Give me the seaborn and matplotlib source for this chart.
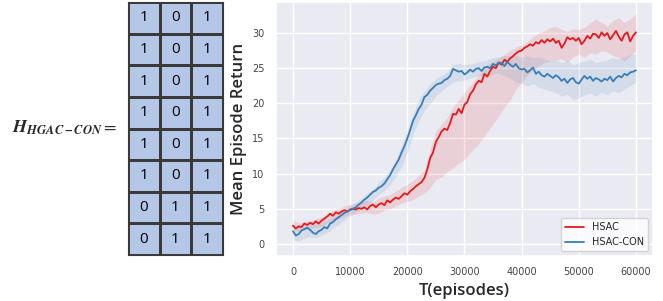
import numpy as np
import matplotlib
matplotlib.use("Agg")
import matplotlib.pyplot as plt
from matplotlib.colors import ListedColormap
import pandas as pd
import seaborn as sns

# Matrix on the left
H_matrix = [[1, 0, 1],
            [1, 0, 1],
            [1, 0, 1],
            [1, 0, 1],
            [1, 0, 1],
            [1, 0, 1],
            [0, 1, 1],
            [0, 1, 1]]

# Mean curves, every 500 episodes
t_mean = list(range(0, 60001, 500))
hsac_mean = [2.6, 2.2, 2.5, 2.4, 2.9, 2.7, 3.0, 2.8, 3.2, 2.9, 3.3,
             3.6, 3.9, 4.3, 4.0, 4.5, 4.3, 4.6, 4.8, 4.6, 4.9,
             5.0, 4.9, 5.1, 5.0, 5.2, 4.9, 5.4, 5.6, 5.2, 5.6,
             5.8, 5.5, 6.2, 5.9, 6.3, 6.6, 6.4, 6.8, 7.2, 7.0,
             7.5, 7.8, 8.2, 8.5, 8.8, 9.4, 10.6, 12.2, 13.0, 14.5,
             15.2, 16.0, 16.4, 16.2, 17.2, 18.5, 18.4, 19.2, 18.6, 19.8,
             20.2, 21.3, 21.8, 22.7, 23.2, 23.0, 24.2, 23.8, 24.6, 25.2,
             25.0, 25.8, 25.5, 26.2, 25.9, 26.4, 26.7, 27.1, 27.4, 27.5,
             27.9, 28.1, 28.4, 28.2, 28.7, 28.5, 29.0, 28.6, 29.1, 28.8,
             29.2, 28.6, 28.9, 27.9, 28.5, 29.4, 29.1, 29.3, 28.9, 29.3,
             28.4, 28.9, 29.6, 29.2, 29.9, 29.8, 29.3, 30.1, 29.6, 30.0,
             29.1, 29.7, 30.3, 29.5, 28.9, 29.8, 30.1, 28.8, 29.6, 30.1]
con_mean = [1.8, 1.2, 1.4, 1.9, 2.1, 2.3, 2.0, 1.6, 1.4, 1.8, 2.0,
            2.4, 2.2, 2.9, 3.1, 3.5, 3.8, 4.1, 4.4, 4.6, 4.8,
            5.0, 5.2, 5.6, 5.9, 6.3, 6.6, 7.0, 7.4, 7.6, 8.0,
            8.2, 8.6, 9.2, 9.8, 10.6, 11.3, 12.0, 13.0, 13.9, 15.0,
            16.2, 17.5, 18.3, 19.2, 19.8, 20.9, 21.2, 21.8, 22.2, 22.6,
            22.8, 22.9, 23.3, 23.5, 23.9, 24.9, 24.7, 24.5, 24.6, 24.1,
            24.4, 24.8, 24.5, 24.9, 25.0, 24.6, 25.1, 25.2, 25.0, 25.6,
            25.4, 25.8, 25.7, 25.3, 25.9, 25.5, 25.2, 25.6, 25.0, 24.8,
            24.9, 24.4, 24.7, 25.1, 24.2, 24.5, 24.0, 23.8, 24.2, 23.9,
            23.6, 24.0, 23.7, 23.2, 23.5, 22.9, 23.4, 23.6, 23.0, 22.8,
            23.4, 23.9, 23.5, 23.8, 23.2, 23.6, 23.4, 23.1, 23.5, 23.3,
            23.8, 23.1, 23.6, 23.9, 23.7, 24.2, 24.0, 24.4, 24.5, 24.7]

# Shaded bands, every 1000 episodes
t_band = list(range(0, 60001, 1000))
hsac_low = [1.9, 1.8, 2.0, 2.2, 2.3, 2.5, 3.0, 3.4, 3.6, 3.9, 4.2,
            4.3, 4.4, 4.5, 4.2, 4.4, 4.8, 5.0, 5.4, 5.8, 6.0,
            6.3, 6.8, 7.2, 8.0, 9.2, 9.5, 10.3, 10.8, 11.5, 12.0,
            13.0, 13.8, 14.8, 16.0, 17.0, 18.2, 19.5, 20.5, 22.0, 23.0,
            24.0, 24.8, 25.3, 25.8, 26.0, 26.2, 26.3, 25.8, 26.6, 27.0,
            26.5, 27.2, 27.0, 27.5, 27.3, 26.8, 26.5, 26.0, 26.8, 27.5]
hsac_high = [3.4, 3.0, 3.2, 3.3, 3.6, 3.8, 4.2, 4.8, 5.0, 5.4, 5.6,
             5.8, 6.0, 6.2, 6.0, 6.5, 6.8, 7.0, 7.5, 8.0, 8.5,
             9.0, 9.8, 10.5, 13.5, 16.0, 17.0, 18.0, 19.5, 20.5, 21.5,
             22.5, 23.5, 24.5, 25.5, 26.0, 26.5, 27.0, 27.5, 28.0, 28.3,
             28.8, 29.5, 30.0, 30.3, 30.8, 31.0, 30.5, 30.2, 30.6, 30.5,
             30.8, 31.5, 32.0, 31.5, 31.0, 31.8, 32.2, 31.5, 32.0, 32.8]
con_low = [0.6, 0.4, 0.8, 1.0, 0.9, 1.2, 1.6, 2.2, 2.8, 3.4, 4.0,
           4.5, 5.0, 5.6, 6.2, 7.0, 7.6, 8.4, 9.6, 11.0, 13.0,
           15.5, 17.5, 19.0, 20.0, 21.0, 21.8, 22.4, 23.0, 23.2, 23.3,
           23.6, 23.8, 24.0, 24.0, 24.2, 24.3, 24.0, 23.5, 23.0, 22.8,
           22.5, 22.8, 22.3, 22.0, 21.8, 21.5, 21.0, 21.3, 20.5, 20.8,
           21.2, 21.5, 21.0, 21.6, 21.2, 21.8, 21.5, 22.0, 22.5, 23.0]
con_high = [2.8, 2.4, 2.6, 2.9, 2.8, 3.0, 3.4, 3.8, 4.2, 4.8, 5.5,
            5.9, 6.5, 7.2, 7.8, 8.8, 9.5, 10.5, 12.0, 14.0, 16.2,
            18.5, 20.5, 21.8, 22.8, 23.5, 24.0, 24.5, 25.5, 25.7, 25.5,
            25.6, 25.8, 26.0, 26.2, 26.5, 26.6, 26.8, 26.8, 26.9, 26.5,
            26.8, 26.5, 26.6, 26.3, 26.0, 26.2, 25.8, 26.0, 25.5, 25.8,
            26.0, 26.3, 25.8, 26.0, 26.2, 26.5, 26.3, 26.6, 27.0, 27.0]

red = "#e41a1c"
blue = "#377eb8"

sns.set_theme(style="darkgrid")
plt.rcParams["mathtext.fontset"] = "stix"

fig = plt.figure(figsize=(6.63, 3.01), dpi=100)

# left: the matrix as a one-colour heatmap
ax_m = fig.add_axes([0.193, 0.153, 0.143, 0.840])
sns.heatmap(np.array(H_matrix), ax=ax_m, cmap=ListedColormap(["#b4c7e7"]),
            annot=True, fmt="d", cbar=False, linewidths=0.8, linecolor="#3a3a3a",
            annot_kws={"color": "black", "fontsize": 11, "family": "Open Sans"},
            xticklabels=False, yticklabels=False)
for s in ax_m.spines.values():
    s.set_visible(True)
    s.set_color("#3a3a3a")
    s.set_linewidth(0.8)
fig.text(0.018, 0.575, r"$\mathbfit{H}_{\mathbfit{HGAC-CON}} =$", fontsize=13,
         ha="left", va="center")

# right: the learning curves
df = pd.DataFrame({"t": t_mean * 2,
                   "ret": hsac_mean + con_mean,
                   "algo": ["HSAC"] * len(t_mean) + ["HSAC-CON"] * len(t_mean)})

ax = fig.add_axes([0.416, 0.150, 0.569, 0.843])
ax.fill_between(t_band, hsac_low, hsac_high, color=red, alpha=0.12, lw=0)
ax.fill_between(t_band, con_low, con_high, color=blue, alpha=0.12, lw=0)
sns.lineplot(data=df, x="t", y="ret", hue="algo", palette=[red, blue],
             linewidth=1.3, ax=ax)

ax.set_xticks([0, 10000, 20000, 30000, 40000, 50000, 60000])
ax.set_yticks([0, 5, 10, 15, 20, 25, 30])
ax.set_ylim(-1.7, 34.4)
ax.tick_params(labelsize=7, labelcolor="#444444", pad=2)
ax.set_xlabel("T(episodes)", fontsize=12, family="Open Sans", weight="semibold")
ax.set_ylabel("Mean Episode Return", fontsize=12, family="Open Sans", weight="semibold")
leg = ax.legend(loc="lower right", fontsize=7, frameon=True)
leg.get_frame().set_facecolor("white")

fig.savefig("out.png", dpi=100)
